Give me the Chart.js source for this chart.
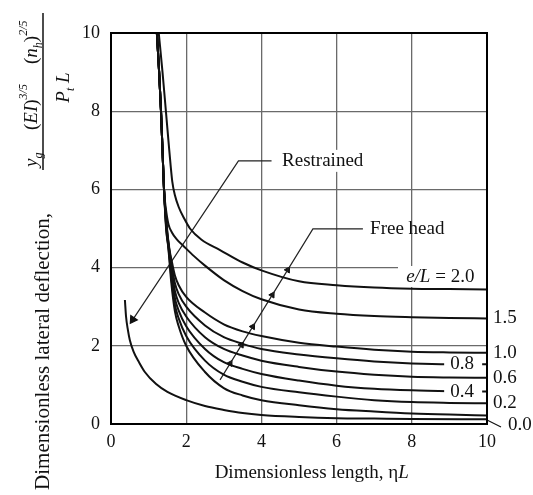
<!DOCTYPE html>
<html><head><meta charset="utf-8">
<script src="https://cdn.jsdelivr.net/npm/chart.js@4.4.1/dist/chart.umd.min.js"></script>
<style>html,body{margin:0;padding:0;background:#fff}canvas{display:block}</style>
</head><body>
<canvas id="c" width="533" height="495" style="width:533px;height:495px"></canvas>
<script>
// ---- data ----
const xTickValues=[0,2,4,6,8,10];
const yTickValues=[0,2,4,6,8,10];
const eOverL=['2.0','1.5','1.0','0.8','0.6','0.4','0.2','0.0'];

const curve20X=[1.27,1.37,1.46,1.55,1.63,1.7,1.8,1.95,2.1,2.4,2.9,3.5,4,5,6,7,8,9,10];
const curve20Y=[10,9,8,7,6.2,5.85,5.55,5.25,5.0,4.72,4.45,4.13,3.93,3.65,3.55,3.49,3.46,3.45,3.44];
const curve15X=[1.22,1.28,1.33,1.37,1.41,1.46,1.53,1.62,1.75,1.92,2.2,2.5,3,3.5,4,5,6,7,8,9,10];
const curve15Y=[10,9,8,7,6,5.5,5.1,4.9,4.72,4.56,4.3,4.05,3.68,3.4,3.19,2.93,2.82,2.76,2.73,2.71,2.70];
const curve10X=[1.22,1.28,1.33,1.37,1.41,1.49,1.55,1.63,1.7,1.8,2,2.5,3,3.5,4,5,6,7,8,9,10];
const curve10Y=[10,9,8,7,6,5,4.5,4.1,3.8,3.55,3.25,2.85,2.55,2.37,2.25,2.08,1.98,1.9,1.85,1.83,1.82];
const curve08X=[1.22,1.28,1.33,1.37,1.41,1.485,1.545,1.625,1.7,1.8,2,2.5,3,3.5,4,5,6,7,8,9,10];
const curve08Y=[10,9,8,7,6,5,4.5,4.0,3.6,3.32,3.0,2.52,2.22,2.05,1.92,1.78,1.68,1.6,1.55,1.53,1.53];
const curve06X=[1.22,1.28,1.33,1.37,1.41,1.48,1.54,1.62,1.7,1.8,2,2.5,3,3.5,4,5,6,7,8,9,10];
const curve06Y=[10,9,8,7,6,5,4.5,3.9,3.4,3.1,2.75,2.22,1.92,1.75,1.62,1.46,1.34,1.26,1.21,1.19,1.18];
const curve04X=[1.22,1.28,1.33,1.37,1.41,1.475,1.535,1.615,1.7,1.8,2,2.5,3,3.5,4,5,6,7,8,9,10];
const curve04Y=[10,9,8,7,6,5,4.5,3.8,3.22,2.9,2.5,1.92,1.58,1.41,1.28,1.11,0.98,0.9,0.86,0.84,0.83];
const curve02X=[1.22,1.28,1.33,1.37,1.41,1.47,1.53,1.61,1.7,1.8,2,2.5,3,3.5,4,5,6,7,8,9,10];
const curve02Y=[10,9,8,7,6,5,4.5,3.7,3.05,2.7,2.25,1.62,1.26,1.08,0.95,0.81,0.7,0.61,0.56,0.54,0.53];
const curve00X=[1.22,1.28,1.33,1.37,1.41,1.465,1.525,1.605,1.7,1.8,2,2.5,3,3.5,4,5,6,7,8,9,10];
const curve00Y=[10,9,8,7,6,5,4.5,3.6,2.88,2.5,2.0,1.33,0.92,0.73,0.61,0.48,0.38,0.32,0.27,0.24,0.22];
const restrainedX=[0.37,0.4,0.45,0.5,0.6,0.75,0.9,1.2,1.5,2,2.5,3,3.5,4,5,6,7,8,10];
const restrainedY=[3.17,2.75,2.4,2.15,1.85,1.57,1.33,1.02,0.82,0.61,0.46,0.36,0.28,0.23,0.18,0.15,0.14,0.13,0.12];

// annotation leaders (data units)
const freeHeadLeaderX=[2.9,5.37,6.7];
const freeHeadLeaderY=[1.13,4.99,4.99];
const freeHeadArrowX=[3.17,3.47,3.77,4.29,4.70];
const freeHeadArrowY=[1.55,2.02,2.49,3.30,3.94];
const restrainedLeaderX=[4.27,3.39,0.58];
const restrainedLeaderY=[6.73,6.73,2.67];

const FONT='"Liberation Serif","Times New Roman",serif';
const pts=(xs,ys)=>xs.map((v,i)=>({x:v,y:ys[i]}));

const curveSets=[
 [curve20X,curve20Y],[curve15X,curve15Y],[curve10X,curve10Y],[curve08X,curve08Y],
 [curve06X,curve06Y],[curve04X,curve04Y],[curve02X,curve02Y],[curve00X,curve00Y]
];
const datasets=curveSets.map((c,i)=>({
 label:'e/L = '+eOverL[i], data:pts(c[0],c[1]), borderColor:'#111', borderWidth:2,
 pointRadius:0, cubicInterpolationMode:'monotone', fill:false
}));
datasets.push({label:'Restrained', data:pts(restrainedX,restrainedY), borderColor:'#111', borderWidth:2,
 pointRadius:0, cubicInterpolationMode:'monotone', fill:false});
datasets.push({label:'freeLeader', data:pts(freeHeadLeaderX,freeHeadLeaderY), borderColor:'#222', borderWidth:1.2,
 pointRadius:0, tension:0, fill:false});
datasets.push({label:'freeArrows', data:pts(freeHeadArrowX,freeHeadArrowY), showLine:false,
 pointStyle:'triangle', pointRadius:3.5, pointRotation:31.6, backgroundColor:'#111', borderColor:'#111', borderWidth:1});
datasets.push({label:'restrLeader', data:pts(restrainedLeaderX,restrainedLeaderY), borderColor:'#222', borderWidth:1.2,
 tension:0, fill:false, pointStyle:'triangle', pointRadius:[0,0,4.5], pointRotation:213.6,
 pointBackgroundColor:'#111', pointBorderColor:'#111'});

function drawParts(ctx, parts, x0, base){
 let cx=x0;
 for(const p of parts){ctx.font=p.f; ctx.fillText(p.t,cx,base+(p.dy||0)); cx+=ctx.measureText(p.t).width;}
 return cx;
}
function partsWidth(ctx, parts){let w=0; for(const p of parts){ctx.font=p.f; w+=ctx.measureText(p.t).width;} return w;}

const annot={
 id:'annot',
 afterDatasetsDraw(chart){
  const {ctx, chartArea:a, scales:{x,y}}=chart;
  const px=v=>x.getPixelForValue(v), py=v=>y.getPixelForValue(v);
  ctx.save();
  ctx.fillStyle='#fff';
  // white backgrounds behind in-plot labels
  ctx.fillRect(398, py(3.76)-11, a.right-398-1, 21);
  ctx.fillRect(px(9.02)-6, py(1.53)-9, 38, 18);
  ctx.fillRect(px(9.02)-6, py(0.83)-9, 38, 18);
  ctx.fillRect(px(4.55)-4, py(6.73)-11, 96, 22);
  ctx.fillStyle='#111'; ctx.textBaseline='middle'; ctx.textAlign='left';
  // e/L = 2.0
  drawParts(ctx,[{t:'e/L',f:'italic 19px '+FONT},{t:' = 2.0',f:'19px '+FONT}], px(7.85), py(3.76));
  ctx.font='19px '+FONT;
  ctx.fillText('0.8', px(9.02), py(1.53));
  ctx.fillText('0.4', px(9.02), py(0.83));
  ctx.fillText('Restrained', px(4.55), py(6.73));
  ctx.fillText('Free head', px(6.89), py(4.99));
  // right side labels
  const rx=a.right+6;
  ctx.fillText(eOverL[1], rx, py(curve15Y[curve15Y.length-1]));
  ctx.fillText(eOverL[2], rx, py(curve10Y[curve10Y.length-1]));
  ctx.fillText(eOverL[4], rx, py(curve06Y[curve06Y.length-1]));
  ctx.fillText(eOverL[6], rx, py(curve02Y[curve02Y.length-1]));
  ctx.fillText(eOverL[7], a.right+21, a.bottom+1);
  ctx.strokeStyle='#111'; ctx.lineWidth=1.2;
  ctx.beginPath(); ctx.moveTo(a.right,a.bottom-4); ctx.lineTo(a.right+14,a.bottom+3); ctx.stroke();
  // border
  ctx.strokeStyle='#000'; ctx.lineWidth=2;
  ctx.strokeRect(a.left,a.top,a.width,a.height);
  ctx.restore();
 },
 afterDraw(chart){
  const {ctx, chartArea:a}=chart;
  ctx.save();
  ctx.fillStyle='#111';
  // x title
  ctx.textBaseline='middle'; ctx.textAlign='left';
  const xt=[{t:'Dimensionless length, η',f:'19px '+FONT},{t:'L',f:'italic 19px '+FONT}];
  const xw=partsWidth(ctx,xt);
  drawParts(ctx,xt,311.7-xw/2,473);
  // y title (rotated)
  ctx.translate(43,490); ctx.rotate(-Math.PI/2);
  const ytxt='Dimensionless lateral deflection,';
  ctx.font='20px '+FONT; let w=ctx.measureText(ytxt).width;
  const fs=Math.min(22,20*277/w);
  ctx.font=fs.toFixed(1)+'px '+FONT;
  ctx.fillText(ytxt,0,0);
  ctx.restore();
  // fraction
  ctx.save();
  ctx.translate(43,170); ctx.rotate(-Math.PI/2);
  ctx.fillStyle='#111'; ctx.strokeStyle='#111'; ctx.lineWidth=1.5;
  ctx.beginPath(); ctx.moveTo(0,0); ctx.lineTo(157,0); ctx.stroke();
  ctx.textBaseline='alphabetic'; ctx.textAlign='left';
  const M='italic 19px '+FONT, R='19px '+FONT, S='italic 12px '+FONT;
  drawParts(ctx,[{t:'y',f:M},{t:'g',f:S,dy:5}],3,-6);
  drawParts(ctx,[{t:'(',f:R},{t:'EI',f:M},{t:')',f:R},{t:'3/5',f:S,dy:-10}],40,-6);
  drawParts(ctx,[{t:'(',f:R},{t:'n',f:M},{t:'h',f:S,dy:5},{t:')',f:R},{t:'2/5',f:S,dy:-10}],106,-6);
  const den=[{t:'P',f:M},{t:'t',f:S,dy:5},{t:' L',f:M}];
  const dw=partsWidth(ctx,den);
  drawParts(ctx,den,82.5-dw/2,26);
  ctx.restore();
 }
};

new Chart(document.getElementById('c'),{
 type:'line',
 data:{datasets},
 options:{
  responsive:false, animation:false, devicePixelRatio:1,
  layout:{padding:{left:0,top:33,right:46,bottom:0}},
  plugins:{legend:{display:false},tooltip:{enabled:false}},
  scales:{
   x:{type:'linear',min:0,max:10,
      afterBuildTicks(s){s.ticks=xTickValues.map(v=>({value:v}));},
      afterFit(s){s.height=71;},
      grid:{color:'#6a6a6a',lineWidth:1.3,drawTicks:false},
      border:{display:true,color:'#000',width:2},
      ticks:{padding:7,color:'#111',font:{family:FONT,size:18},maxRotation:0,autoSkip:false}},
   y:{type:'linear',min:0,max:10,
      afterBuildTicks(s){s.ticks=yTickValues.map(v=>({value:v}));},
      afterFit(s){s.width=111;},
      grid:{color:'#6a6a6a',lineWidth:1.3,drawTicks:false},
      border:{display:true,color:'#000',width:2},
      ticks:{padding:11,color:'#111',font:{family:FONT,size:18}}}
  }
 },
 plugins:[annot]
});
</script>
</body></html>
